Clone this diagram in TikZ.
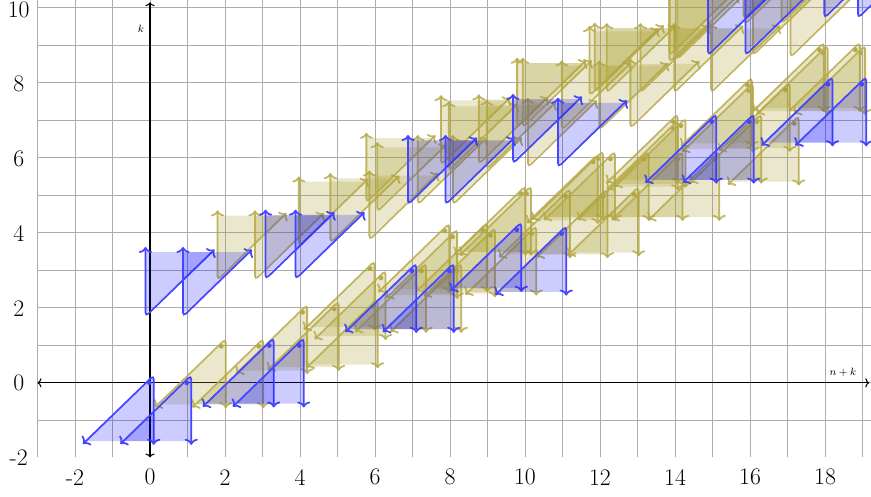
\documentclass[tikz,border=0pt]{standalone}
\usetikzlibrary{arrows.meta}
\definecolor{tblue}{RGB}{70,70,255}
\definecolor{tbluef}{RGB}{0,0,255}
\definecolor{toliv}{RGB}{182,170,72}
\definecolor{tolivf}{RGB}{170,160,50}
\definecolor{gridc}{RGB}{172,172,172}
\begin{document}
\begin{tikzpicture}[x=1cm,y=0.995cm,
  tip/.tip={To[length=4.5pt,width=10pt]},
  tileline/.style={line width=1.35pt, rounded corners=3pt, tip-tip, line cap=round},
  axisline/.style={line width=0.8pt, black, {To[length=3pt,width=7pt]}-{To[length=3pt,width=7pt]}},
  ticklab/.style={font=\fontsize{18}{20}\selectfont, inner sep=0pt},
  axlab/.style={font=\footnotesize, inner sep=0pt},
  bluel/.style={draw=tblue},
  bluef/.style={fill=tbluef, fill opacity=0.2},
  blued/.style={fill=tblue},
  olivl/.style={draw=toliv, draw opacity=0.85},
  olivf/.style={fill=tolivf, fill opacity=0.25},
  olivd/.style={fill=toliv},
  pics/dtile/.style={code={
    \path[#1f] (0.1,0.15) -- (0.1,-1.56) -- (-1.71,-1.56) -- cycle;
    \path[#1l, tileline] (0.1,-1.66) -- (0.1,0.2) -- (-1.79,-1.64);
    \path[#1d] (-0.02,0) circle (1.8pt);
  }},
  pics/utile/.style={code={
    \path[#1f] (-0.12,-0.15) -- (-0.12,1.5) -- (1.65,1.5) -- cycle;
    \path[#1l, tileline] (-0.12,1.64) -- (-0.12,-0.22) -- (1.72,1.57);
  }}
]
\useasboundingbox (-4,-3.04) rectangle (19.227,10.26);
\draw[gridc, line width=0.5pt] (-3,-2) grid (19.227,10.26);
\draw[axisline] (-3,0) -- (19.18,0);
\draw[axisline] (0,-2) -- (0,10.2);
\node[axlab] (labnk) at (18.48,0.27) {$n+k$};
\node[axlab] (labk) at (-0.24,9.5) {$k$};
\foreach \v in {-2,0,...,18} \node[ticklab] (xt\v) at (\v,-2.53) {\v};
\foreach \v in {-2,0,...,10} \node[ticklab] (yt\v) at (-3.5,\v) {\v};
% olive tiles
\foreach \x/\k in {1.92/0.98,2.92/0.98,4.09/1.89,4.93/1.98,5.97/2.05,5.89/3.06,6.18/2.81,7.26/3.0,8.2/3.0,
  7.88/4.07,8.09/3.91,8.89/4.09,9.1/3.95,10.2/4.0,9.91/5.07,10.06/5.07,11.1/5.0,12.1/5.0,12.93/5.05,
  11.84/5.92,11.98/6.01,12.3/6.0,13.2/6.0,14.1/6.0,15.08/6.0,13.97/7.0,13.97/6.82,14.18/6.89,16.2/7.0,17.2/6.95,
  15.95/7.98,15.98/7.83,16.96/7.85,17.87/8.92,17.97/8.84,18.83/8.92,18.97/8.84}{
  \pic at (\x,\k) {dtile=oliv};
  \pic at (\x,\k+2) {utile=oliv};
}
% blue tiles
\foreach \x/\k in {0/0,1/0,3.2/1,4/1,7/3,8/3,9.8/4.1,11/4,15/7,16/7,18.1/8,19/8}{
  \pic at (\x,\k) {dtile=blue};
  \pic at (\x,\k+2) {utile=blue};
}
\end{tikzpicture}
\end{document}
